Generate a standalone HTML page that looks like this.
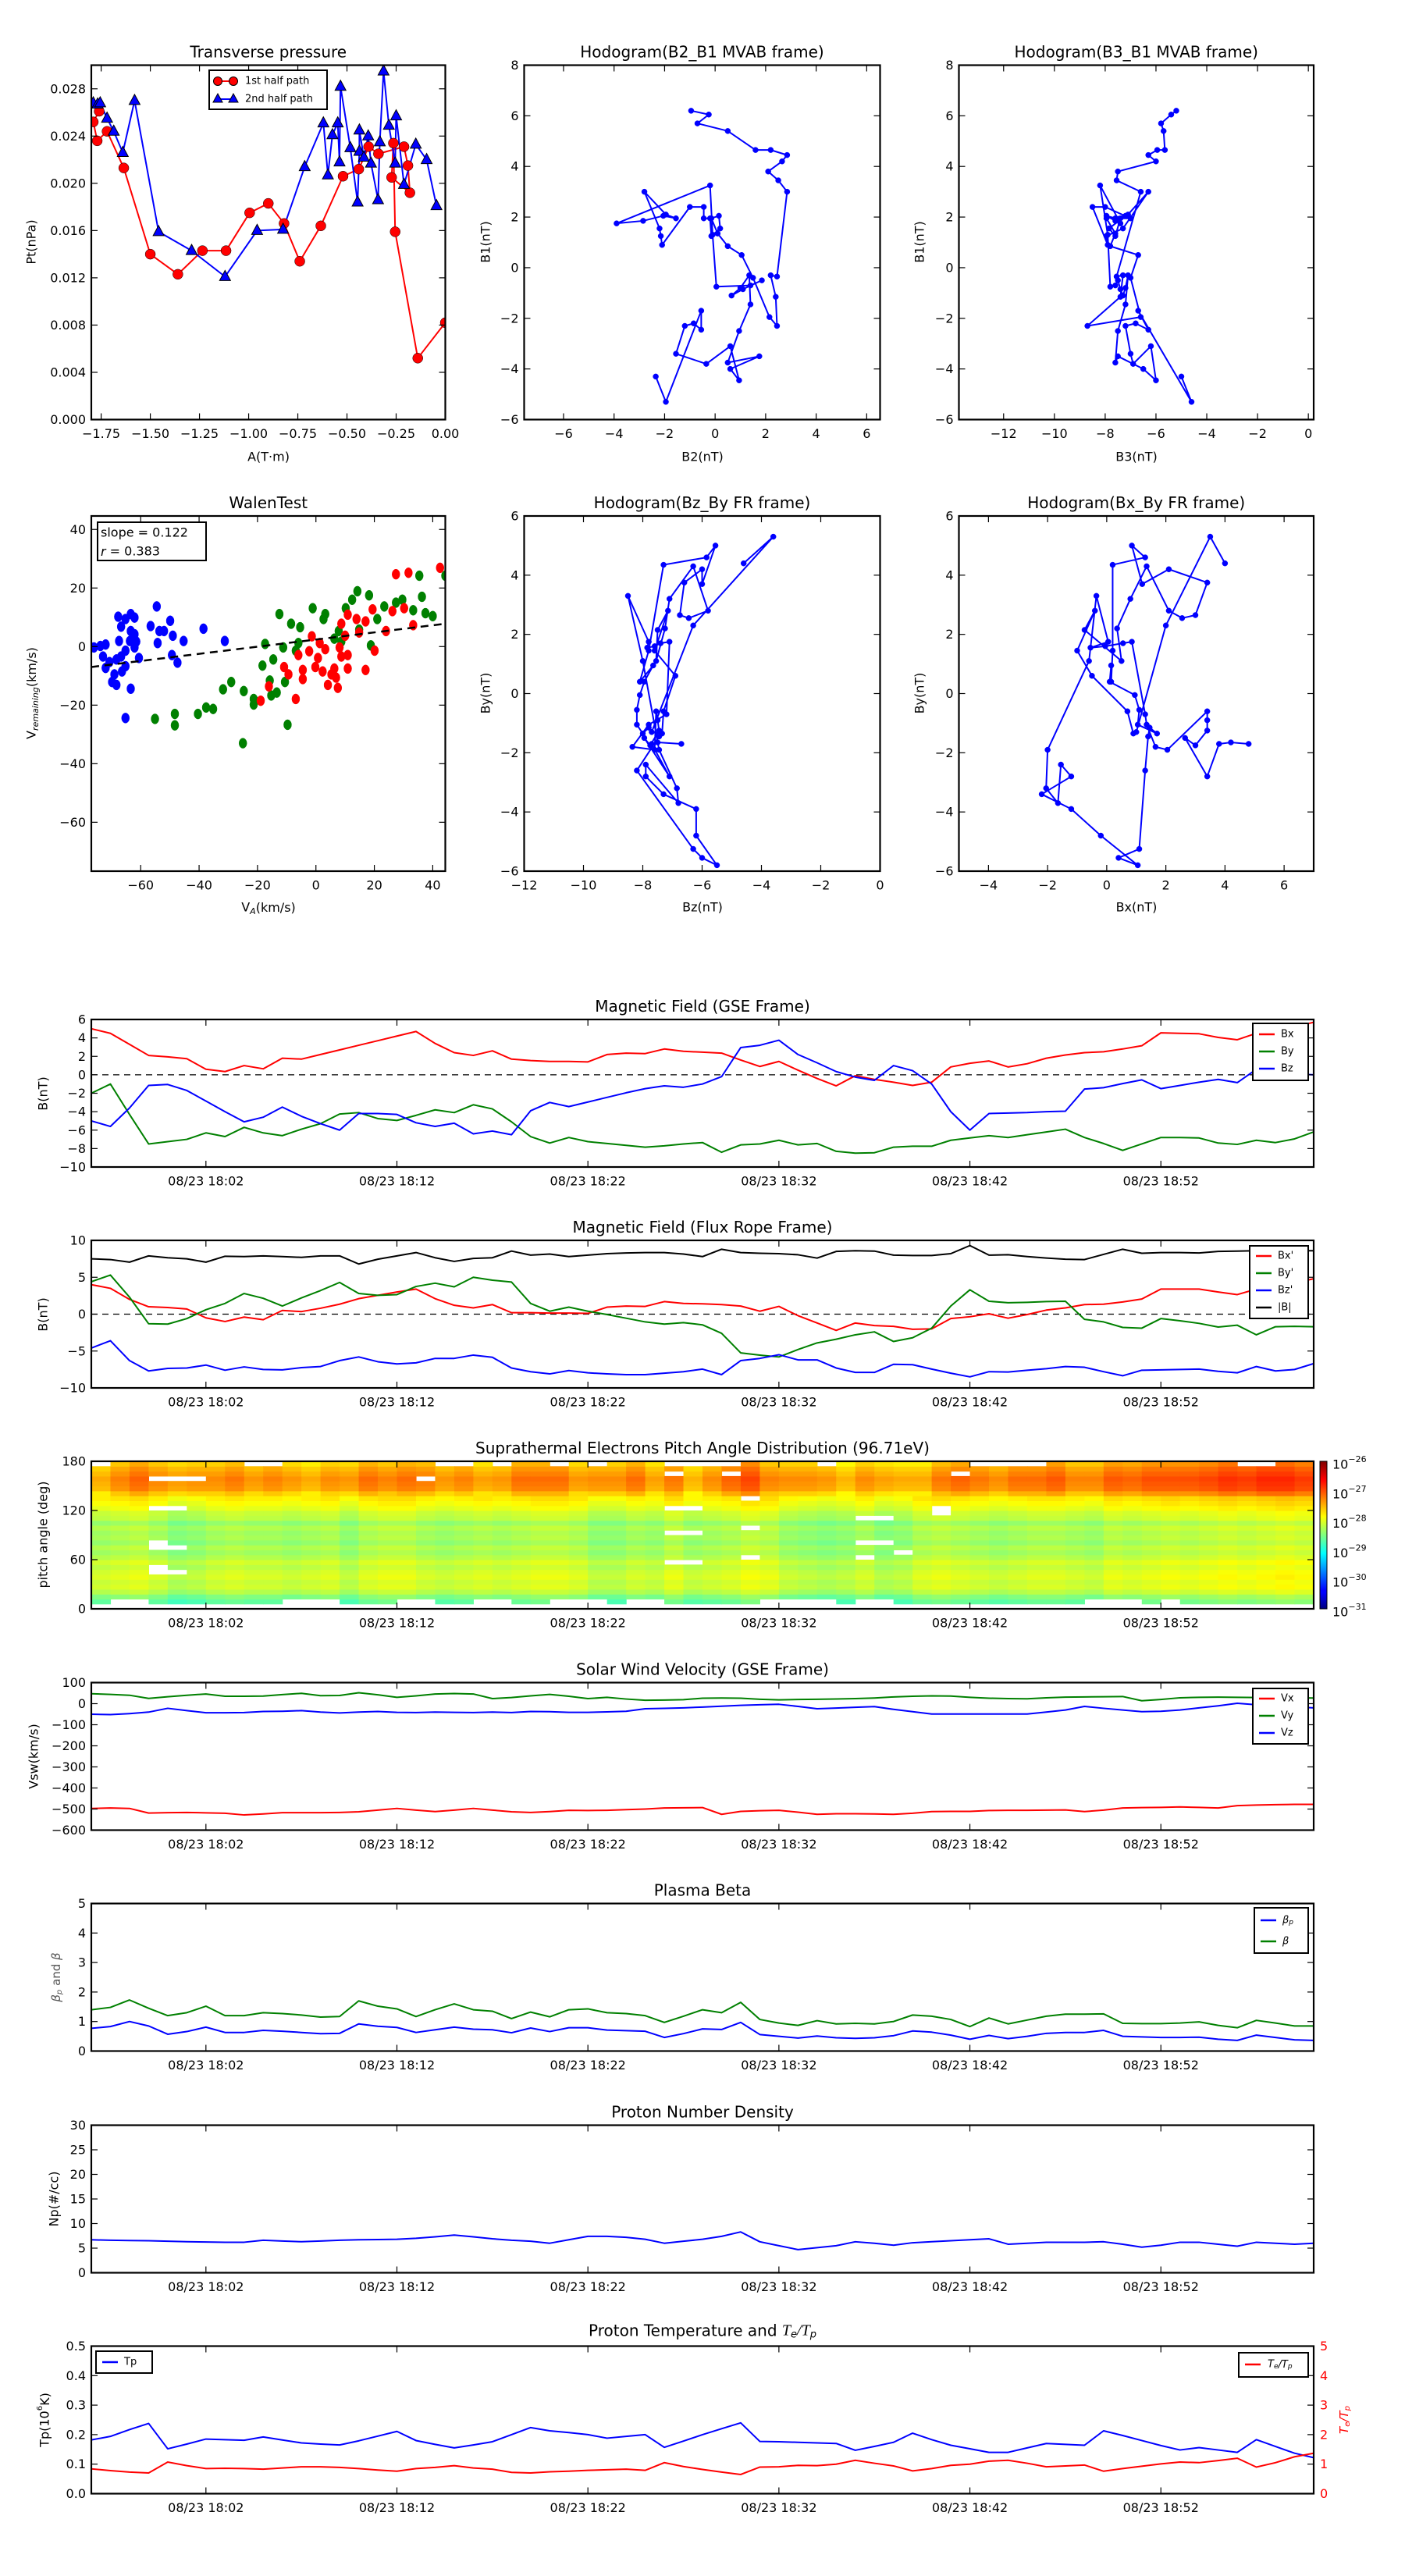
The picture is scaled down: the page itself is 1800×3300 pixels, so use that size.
<!DOCTYPE html>
<html><head><meta charset="utf-8"><title>Flux rope analysis</title>
<style>html,body{margin:0;padding:0;background:#fff}svg{display:block}text{font-family:"DejaVu Sans","Liberation Sans",sans-serif}</style>
</head><body>
<svg id="fig" xmlns="http://www.w3.org/2000/svg" width="1800" height="3300" viewBox="0 0 1800 3300"><rect width="1800" height="3300" fill="#fff"/><defs id="defs"><linearGradient id="jetgrad" x1="0" y1="1" x2="0" y2="0"><stop offset="0" stop-color="#00007f"/><stop offset="0.11" stop-color="#0000ff"/><stop offset="0.125" stop-color="#0000ff"/><stop offset="0.375" stop-color="#00ffff"/><stop offset="0.625" stop-color="#ffff00"/><stop offset="0.875" stop-color="#ff0000"/><stop offset="1" stop-color="#7f0000"/></linearGradient></defs></svg>
<script>
// ---------- time-series data (1-min cadence starting 17:56) ----------
const timeTickMinutes=[6,16,26,36,46,56];
const timeTickLabels=["08/23 18:02","08/23 18:12","08/23 18:22","08/23 18:32","08/23 18:42","08/23 18:52"];
const gseBx=[5.0,4.5,3.3,2.1,1.95,1.75,0.6,0.35,1.0,0.65,1.8,1.7,2.2,2.7,3.2,3.7,4.2,4.7,3.4,2.4,2.1,2.6,1.7,1.55,1.45,1.45,1.4,2.2,2.35,2.3,2.8,2.55,2.45,2.35,1.6,0.9,1.45,0.5,-0.4,-1.2,-0.1,-0.5,-0.8,-1.15,-0.8,0.85,1.25,1.5,0.85,1.2,1.8,2.15,2.4,2.5,2.8,3.15,4.55,4.5,4.45,4.05,3.8,4.5,4.8,5.2,5.7];
const gseBy=[-2.0,-1.0,-4.3,-7.5,-7.25,-7.0,-6.3,-6.7,-5.7,-6.3,-6.6,-5.9,-5.3,-4.25,-4.1,-4.75,-4.95,-4.4,-3.8,-4.1,-3.25,-3.7,-5.1,-6.7,-7.4,-6.8,-7.25,-7.45,-7.65,-7.85,-7.7,-7.5,-7.35,-8.4,-7.6,-7.5,-7.1,-7.6,-7.45,-8.3,-8.5,-8.45,-7.85,-7.75,-7.75,-7.1,-6.85,-6.6,-6.8,-6.5,-6.2,-5.9,-6.8,-7.45,-8.2,-7.5,-6.8,-6.8,-6.85,-7.4,-7.55,-7.1,-7.35,-6.95,-6.2];
const gseBz=[-5.0,-5.6,-3.6,-1.15,-1.05,-1.7,-2.85,-4.0,-5.1,-4.6,-3.5,-4.5,-5.3,-6.0,-4.2,-4.2,-4.3,-5.2,-5.6,-5.25,-6.4,-6.1,-6.5,-3.9,-3.0,-3.45,-2.95,-2.45,-1.95,-1.5,-1.2,-1.35,-1.0,-0.2,2.95,3.2,3.75,2.2,1.3,0.35,-0.25,-0.6,1.0,0.45,-1.0,-4.0,-6.0,-4.2,-4.15,-4.1,-4.0,-3.95,-1.55,-1.4,-0.95,-0.55,-1.5,-1.15,-0.8,-0.5,-0.85,0.6,0.4,0.1,0.0];
const frBx=[4.0,3.5,2.0,1.0,0.9,0.7,-0.5,-1.0,-0.4,-0.75,0.5,0.35,0.8,1.35,2.1,2.55,3.0,3.4,2.1,1.2,0.85,1.3,0.2,0.2,0.15,0.15,0.1,0.95,1.1,1.05,1.7,1.45,1.4,1.3,1.1,0.4,1.05,-0.2,-1.2,-2.2,-1.2,-1.55,-1.65,-2.05,-2.0,-0.6,-0.35,0.05,-0.55,-0.05,0.55,0.85,1.3,1.35,1.65,2.05,3.4,3.4,3.4,3.0,2.65,3.4,3.8,4.2,4.8];
const frBy=[4.4,5.3,2.3,-1.3,-1.35,-0.6,0.6,1.45,2.8,2.15,1.1,2.2,3.2,4.3,2.8,2.55,2.65,3.75,4.2,3.7,5.0,4.6,4.35,1.45,0.4,0.95,0.4,-0.05,-0.55,-1.05,-1.35,-1.15,-1.45,-2.6,-5.25,-5.55,-5.8,-4.8,-3.9,-3.4,-2.8,-2.4,-3.7,-3.2,-1.9,1.1,3.3,1.75,1.55,1.6,1.7,1.75,-0.7,-1.05,-1.8,-1.9,-0.6,-0.9,-1.25,-1.75,-1.5,-2.8,-1.7,-1.65,-1.7];
const frBz=[-4.6,-3.6,-6.3,-7.7,-7.35,-7.3,-6.9,-7.6,-7.15,-7.5,-7.55,-7.25,-7.1,-6.3,-5.8,-6.45,-6.75,-6.6,-6.0,-6.0,-5.55,-5.85,-7.3,-7.8,-8.1,-7.65,-7.95,-8.1,-8.2,-8.2,-8.0,-7.8,-7.45,-8.2,-6.3,-6.0,-5.5,-6.2,-6.2,-7.3,-7.9,-7.9,-6.8,-6.85,-7.45,-8.0,-8.5,-7.8,-7.85,-7.6,-7.4,-7.1,-7.2,-7.8,-8.35,-7.6,-7.55,-7.5,-7.45,-7.75,-7.95,-7.1,-7.7,-7.5,-6.7];
const frBt=[7.5,7.4,7.05,7.9,7.65,7.5,7.05,7.85,7.8,7.9,7.8,7.7,7.9,7.9,6.8,7.45,7.9,8.35,7.65,7.15,7.55,7.65,8.55,8.0,8.15,7.8,8.0,8.2,8.3,8.35,8.35,8.15,7.8,8.8,8.35,8.25,8.2,8.05,7.6,8.5,8.6,8.55,8.0,7.95,7.95,8.2,9.3,8.0,8.05,7.8,7.6,7.45,7.4,8.1,8.8,8.25,8.35,8.35,8.3,8.5,8.55,8.6,8.6,8.6,8.6];
const vswVx=[-497,-495,-497,-519,-517,-516,-518,-520,-528,-523,-517,-517,-517,-516,-513,-505,-497,-505,-512,-505,-497,-505,-513,-516,-512,-506,-507,-506,-503,-500,-495,-494,-493,-525,-511,-508,-506,-515,-525,-522,-522,-523,-525,-520,-512,-511,-511,-507,-506,-506,-505,-504,-512,-505,-495,-493,-492,-490,-492,-495,-484,-481,-479,-478,-478];
const vswVy=[47,44,40,25,33,40,46,35,35,36,43,49,38,39,52,42,30,37,46,48,46,24,29,37,44,35,24,30,22,16,17,19,26,27,26,21,18,20,21,22,24,27,32,35,37,36,30,26,24,23,28,31,32,33,34,14,20,28,30,31,30,29,28,28,27];
const vswVz=[-50,-52,-47,-40,-22,-33,-43,-43,-42,-37,-36,-33,-40,-44,-40,-37,-41,-42,-40,-41,-42,-40,-42,-37,-38,-41,-41,-39,-36,-24,-22,-20,-16,-12,-8,-5,-3,-13,-24,-21,-17,-14,-27,-38,-49,-49,-49,-49,-49,-49,-40,-30,-13,-22,-30,-38,-36,-30,-20,-10,2,-5,-10,-15,-20];
const betaTotal=[1.4,1.48,1.73,1.45,1.2,1.3,1.52,1.2,1.2,1.3,1.27,1.22,1.15,1.17,1.7,1.52,1.43,1.17,1.4,1.6,1.4,1.35,1.1,1.32,1.16,1.4,1.43,1.3,1.27,1.2,0.97,1.18,1.4,1.3,1.65,1.07,0.95,0.87,1.03,0.92,0.94,0.92,1.0,1.22,1.18,1.07,0.83,1.12,0.92,1.05,1.18,1.25,1.25,1.26,0.94,0.93,0.93,0.95,0.99,0.87,0.79,1.04,0.95,0.85,0.85];
const betaProton=[0.77,0.83,1.0,0.85,0.57,0.66,0.81,0.63,0.63,0.7,0.67,0.63,0.59,0.6,0.92,0.84,0.8,0.63,0.72,0.81,0.74,0.72,0.62,0.78,0.66,0.79,0.79,0.71,0.69,0.67,0.46,0.59,0.75,0.73,0.97,0.56,0.5,0.44,0.51,0.45,0.43,0.45,0.52,0.68,0.64,0.54,0.4,0.53,0.42,0.5,0.6,0.63,0.63,0.7,0.5,0.48,0.46,0.46,0.47,0.4,0.36,0.54,0.46,0.38,0.36];
const density=[6.7,6.6,6.55,6.5,6.4,6.3,6.25,6.2,6.2,6.6,6.45,6.3,6.45,6.6,6.7,6.75,6.8,7.0,7.3,7.65,7.3,6.9,6.6,6.4,6.0,6.7,7.4,7.4,7.2,6.8,6.0,6.4,6.8,7.4,8.3,6.3,5.5,4.7,5.1,5.5,6.3,6.0,5.6,6.1,6.3,6.5,6.7,6.9,5.8,6.0,6.2,6.2,6.2,6.3,5.8,5.2,5.6,6.2,6.2,5.8,5.4,6.2,6.0,5.8,6.0];
const protonTemp=[0.182,0.194,0.217,0.238,0.152,0.168,0.185,0.183,0.181,0.192,0.182,0.172,0.168,0.165,0.179,0.195,0.211,0.18,0.167,0.155,0.165,0.176,0.2,0.224,0.213,0.207,0.2,0.188,0.194,0.2,0.157,0.178,0.2,0.22,0.24,0.177,0.176,0.174,0.172,0.17,0.147,0.16,0.174,0.205,0.183,0.164,0.152,0.14,0.14,0.155,0.17,0.167,0.164,0.213,0.197,0.18,0.163,0.148,0.156,0.148,0.14,0.183,0.16,0.137,0.122];
const tempRatio=[0.84,0.78,0.73,0.7,1.07,0.95,0.85,0.86,0.85,0.83,0.87,0.91,0.91,0.89,0.85,0.8,0.76,0.85,0.89,0.95,0.87,0.83,0.72,0.7,0.74,0.76,0.79,0.81,0.83,0.79,1.05,0.92,0.82,0.73,0.65,0.9,0.91,0.96,0.95,1.0,1.13,1.03,0.94,0.77,0.85,0.96,1.0,1.1,1.13,1.03,0.91,0.94,0.97,0.76,0.85,0.93,1.01,1.07,1.05,1.12,1.2,0.9,1.05,1.25,1.37];
// PAD: normalised log-flux level per pitch-angle bin (6 deg) and per-minute offsets
const padRowLevel=[null,0.47,0.5,0.55,0.58,0.57,0.59,0.58,0.56,0.58,0.55,0.53,0.55,0.52,0.54,0.53,0.55,0.52,0.56,0.57,0.6,0.62,0.64,0.66,0.71,0.72,0.73,0.71,0.69,0.66];
const padColOffset=[0,0.01,0.02,0,-0.03,-0.02,0,0.01,0,0,-0.01,0,0.01,-0.02,0.01,0.02,0.02,0,-0.01,0,0.01,0,0.01,0.02,0.02,0.01,-0.02,-0.02,0,-0.01,0.02,-0.01,0,0.01,0.03,0.02,-0.01,-0.02,-0.03,-0.02,0,-0.03,-0.02,0.01,0.02,0.01,0,-0.01,0,0.01,0.01,0,-0.01,0.02,0.01,0.02,0.03,0.02,0.03,0.04,0.03,0.04,0.05,0.04];
const padTopOffset=[-0.02,0.01,0.03,0.02,0.03,0.03,0.01,0.02,0,0.02,0.01,-0.02,0,0.02,0.03,0,0.02,0.03,0.01,0.02,-0.02,0,0.03,0.02,0.02,-0.01,0.03,0.03,0.04,0,0.01,-0.02,0.01,0.04,0.05,0,0.02,0.03,0.03,-0.01,0.01,0.02,0,-0.03,0.01,0.04,0.03,0.02,0.04,0.03,0.05,0.02,0.03,0.04,0.04,0.05,0.04,0.05,0.05,0.06,0.06,0.07,0.06,0.05];
const padBlankCol=[3,4,3,3,4,3,3,4,30,31,30,31,30,31,34,34,34,40,41,40,41,42,40,44,44,3,4,5,17,30,33,45,46,47,48,49,1,2,10,11,12,16,17,20,21,24,25,26,28,29,35,36,37,38,40,41,52,53,54,56,0,8,9,18,19,21,24,26,30,31,32,33,38,47,48,49,60,61];
const padBlankRow=[20,20,13,12,12,8,7,7,20,20,15,15,9,9,22,16,10,18,18,13,13,11,10,20,19,26,26,26,26,27,27,27,29,29,29,29,1,1,1,1,1,1,1,1,1,1,1,1,1,1,1,1,1,1,1,1,1,1,1,1,29,29,29,29,29,29,29,29,29,29,29,29,29,29,29,29,29,29];
const colorbarLabels=["-26","-27","-28","-29","-30","-31"];
// ---------- transverse pressure ----------
const pt1A=[-1.76,-1.79,-1.77,-1.72,-1.635,-1.5,-1.36,-1.235,-1.115,-0.995,-0.9,-0.82,-0.74,-0.633,-0.52,-0.44,-0.39,-0.34,-0.21,-0.19,-0.18,-0.273,-0.264,-0.255,-0.14,0.0];
const pt1P=[0.0261,0.0252,0.0236,0.0244,0.0213,0.014,0.0123,0.0143,0.0143,0.0175,0.0183,0.0166,0.0134,0.0164,0.0206,0.0212,0.0231,0.0225,0.0231,0.0215,0.0192,0.0205,0.0234,0.0159,0.0052,0.0082];
const pt2A=[-1.79,-1.768,-1.755,-1.72,-1.686,-1.64,-1.58,-1.458,-1.29,-1.12,-0.957,-0.825,-0.715,-0.62,-0.597,-0.574,-0.547,-0.538,-0.533,-0.483,-0.446,-0.437,-0.437,-0.414,-0.392,-0.378,-0.342,-0.333,-0.314,-0.287,-0.255,-0.25,-0.21,-0.15,-0.095,-0.045];
const pt2P=[0.0268,0.0267,0.0268,0.0255,0.0244,0.0226,0.027,0.0159,0.0143,0.0121,0.016,0.0161,0.0214,0.0251,0.0207,0.0241,0.0251,0.0218,0.0282,0.023,0.0184,0.0227,0.0245,0.0222,0.024,0.0217,0.0186,0.0235,0.0295,0.0249,0.0217,0.0257,0.0199,0.0233,0.022,0.0181];
// ---------- MVAB hodograms ----------
const mvB1=[6.2,6.05,5.7,5.4,4.65,4.65,4.45,4.2,3.8,3.45,3.0,-0.35,-0.3,-1.15,-2.3,-1.95,-0.4,0.5,0.85,1.35,1.95,2.05,1.55,1.25,1.95,1.95,2.4,2.4,0.9,1.25,1.55,3.0,2.1,1.95,2.05,1.85,1.75,3.25,1.3,-0.75,-0.7,-0.5,-0.85,-1.1,-0.8,-0.3,-1.45,-2.5,-3.75,-3.5,-4.0,-4.45,-3.1,-3.8,-3.4,-2.3,-2.2,-2.45,-1.7,-5.3,-4.3];
const mvB2=[-0.95,-0.25,-0.7,0.5,1.6,2.2,2.85,2.65,2.1,2.5,2.85,2.45,2.2,2.4,2.45,2.15,1.5,1.05,0.5,0.1,-0.15,0.15,0.2,-0.15,-0.2,-0.45,-0.45,-1.0,-2.1,-2.15,-2.2,-2.8,-1.95,-1.55,-2.05,-2.85,-3.9,-0.2,-0.1,0.05,1.4,1.85,1.1,0.65,1.0,1.35,1.4,0.95,0.5,1.75,0.6,0.95,0.6,-0.35,-1.55,-1.2,-0.85,-0.55,-0.55,-1.95,-2.35];
const mvB3=[-5.2,-5.4,-5.8,-5.7,-5.65,-5.95,-6.3,-6.0,-7.5,-7.55,-6.6,-7.55,-7.3,-7.4,-8.7,-6.6,-7.0,-6.7,-7.8,-7.6,-7.95,-7.2,-7.85,-7.6,-7.4,-7.0,-8.0,-8.5,-7.9,-7.95,-7.3,-6.3,-7.1,-7.6,-7.95,-7.6,-7.4,-8.2,-7.9,-7.8,-7.6,-7.5,-7.4,-7.3,-7.2,-7.1,-7.2,-7.5,-7.6,-7.5,-6.5,-6.0,-6.2,-6.9,-7.0,-7.2,-6.8,-6.3,-6.7,-4.6,-5.0];
// ---------- Walen test ----------
const walenBlueVA=[-76,-73.8,-72,-72.9,-72,-69.8,-68.3,-69,-68.3,-67.4,-66.7,-67.7,-65.2,-63.4,-62.1,-63.4,-62.1,-63.7,-62.1,-65.2,-66.7,-65.2,-66.4,-63.4,-65.2,-61.5,-60.6,-56.6,-54.5,-53.6,-52,-54.2,-49.9,-49,-49.3,-47.4,-45.3,-38.5,-31.2,-70.7];
const walenBlueVR=[-0.3,0.2,0.7,-3.4,-7.3,-12.1,-13.1,-9.5,-4.4,1.9,6.8,10.2,9.4,11.1,9.9,5.3,4.2,1.9,-0.3,-1.4,-3.4,-6.7,-8.5,-14.4,-24.4,1.7,-3.9,7,13.7,5.3,5.3,1.2,8.8,3.7,-2.9,-5.5,1.9,6.1,1.9,-5.3];
const walenGreenVA=[-55.1,-48.3,-48.3,-40.4,-37.6,-35.2,-31.8,-29,-24.7,-25,-21.3,-21.3,-18.3,-17.4,-15.8,-15.3,-14.6,-13.4,-12.5,-11.2,-10.6,-9.7,-8.5,-6.9,-6,-5.4,-1.1,2.6,3.2,6.3,7.8,8.7,10.2,12.4,14.2,14.8,18.2,18.8,21,23.4,27.4,29.6,33.3,35.4,36.3,37.5,40,44.3];
const walenGreenVR=[-24.7,-23,-26.9,-23,-20.8,-21.3,-14.6,-12.1,-15.2,-33,-17.9,-19.8,-6.5,0.9,-11.6,-16.7,-4.4,-15.7,11.1,-0.3,-12.1,-26.7,7.8,-1.4,1.2,6.6,13.1,9.4,11.1,2.7,5.3,1.7,13.1,16,18.9,5.8,17.5,0.4,9.4,13.7,15,16,12.4,24.2,17,11.4,10.4,24.2];
const walenRedVA=[-18.9,-16.1,-10.9,-9.4,-6.9,-6,-4.5,-4.5,-2.3,-1.4,-0.2,0.7,1.3,2.3,3.2,4.1,5.3,6.3,6.9,7.5,8.1,8.7,8.7,10,10.9,10.9,10.9,13.9,14.8,17,17,19.4,20.1,24,26.2,27.4,30.2,31.7,33.3,42.5];
const walenRedVR=[-18.5,-13.6,-7,-9.5,-17.9,-2.9,-8,-11.1,-1.6,3.5,-7,-3.9,1.2,-8.5,-0.9,-13.1,-9.5,-7.5,-10.6,-14.1,-0.3,-3.4,7.8,3.7,10.9,-2.9,-7.5,9.4,4.8,8.6,-8,12.7,-1.4,5.3,12.1,24.7,13.1,25.2,7.3,26.9];
const walenSlope=0.122, walenIntercept=2.4;

// ---------- drawing helpers ----------
const NS="http://www.w3.org/2000/svg";
const svg=document.getElementById("fig");
const defs=document.getElementById("defs");
function mk(tag,attrs,parent){const e=document.createElementNS(NS,tag);for(const k in attrs)e.setAttribute(k,attrs[k]);(parent||svg).appendChild(e);return e;}
function lin(d0,d1,r0,r1){return v=>r0+(v-d0)*(r1-r0)/(d1-d0);}
let clipN=0;
function txt(parent,x,y,s,size,anchor,extra){const t=mk("text",Object.assign({x:x,y:y,"font-size":size,"text-anchor":anchor||"middle","dominant-baseline":"central",fill:"#000"},extra||{}),parent);t.textContent=s;return t;}
function axes(name,box,xd,yd,xt,xl,yt,yl){
  const g=mk("g",{});
  
  
  const sx=lin(xd[0],xd[1],box.x,box.x+box.w), sy=lin(yd[0],yd[1],box.y+box.h,box.y);
  clipN++;
  const cp=mk("clipPath",{id:"clip"+clipN},defs);
  mk("rect",{x:box.x,y:box.y,width:box.w,height:box.h},cp);
  const data=mk("g",{"clip-path":"url(#clip"+clipN+")"},g);
  
  
  const fr=mk("g",{},g);
  const b=box.y+box.h;
  xt.forEach((v,i)=>{const X=sx(v);
    mk("line",{x1:X,x2:X,y1:b,y2:b-8,stroke:"#000","stroke-width":1.2},fr);
    mk("line",{x1:X,x2:X,y1:box.y,y2:box.y+8,stroke:"#000","stroke-width":1.2},fr);
    const t=txt(fr,X,b+18,xl[i],16);
    
    });
  yt.forEach((v,i)=>{const Y=sy(v);
    mk("line",{x1:box.x,x2:box.x+8,y1:Y,y2:Y,stroke:"#000","stroke-width":1.2},fr);
    mk("line",{x1:box.x+box.w,x2:box.x+box.w-8,y1:Y,y2:Y,stroke:"#000","stroke-width":1.2},fr);
    const t=txt(fr,box.x-7,Y,yl[i],16,"end");
    
    });
  const r=mk("rect",{x:box.x,y:box.y,width:box.w,height:box.h,fill:"none",stroke:"#000","stroke-width":2.2},fr);
  
  
  return {sx,sy,g,data,fr,box};
}
function rng(a,b,s){const o=[];for(let v=a;v<=b+1e-9;v+=s)o.push(Math.round(v*1000)/1000);return o;}
function polyline(ax,xs,ys,color,w,name){
  const pts=xs.map((x,i)=>ax.sx(x).toFixed(2)+","+ax.sy(ys[i]).toFixed(2)).join(" ");
  const p=mk("polyline",{points:pts,fill:"none",stroke:color,"stroke-width":w||2,"stroke-linejoin":"round"},ax.data);
  
  
  return p;
}
function dots(ax,xs,ys,color,r,name,ry){
  xs.forEach((x,i)=>{const c=mk("ellipse",{cx:ax.sx(x),cy:ax.sy(ys[i]),rx:r,ry:ry||r,fill:color,stroke:color,"stroke-width":0.5},ax.data);
    
    });
}
function title(ax,s,dy){const t=txt(svg,ax.box.x+ax.box.w/2,ax.box.y-(dy||17),s,20);
  
  return t;}
function ylabel(x,y,s,size,color){const t=txt(svg,x,y,s,size||16,"middle",{transform:"rotate(-90 "+x+" "+y+")",fill:color||"#000"});
  
  return t;}
function xlabel(x,y,s){const t=txt(svg,x,y,s,16);
  
  return t;}
function legend(box,entries,name){
  const g=mk("g",{});
  
  
  mk("rect",{x:box.x,y:box.y,width:box.w,height:box.h,fill:"#fff",stroke:"#000","stroke-width":2},g);
  entries.forEach(e=>{
    const ln=mk("line",{x1:box.x+8,x2:box.x+28,y1:e.y,y2:e.y,stroke:e.color,"stroke-width":2.5},g);
    
    
    const t=txt(g,box.x+36,e.y,e.label,13,"start");
    
    
  });
  return g;
}
function zeroLine(ax){const l=mk("line",{x1:ax.box.x,x2:ax.box.x+ax.box.w,y1:ax.sy(0),y2:ax.sy(0),stroke:"#000","stroke-width":1.3,"stroke-dasharray":"8,6"},ax.data);
  
  }
function jet(t){const c=v=>Math.round(255*Math.max(0,Math.min(1,v)));return "rgb("+c(1.5-Math.abs(4*t-3))+","+c(1.5-Math.abs(4*t-2))+","+c(1.5-Math.abs(4*t-1))+")";}

// ---------- Row 1 ----------
const axPt=axes("transverse-pressure-chart",{x:117,y:83.5,w:453.5,h:454},[-1.8,0],[0,0.03],rng(-1.75,0,0.25),rng(-1.75,0,0.25).map(v=>v.toFixed(2).replace("-","\u2212")),rng(0,0.028,0.004),rng(0,0.028,0.004).map(v=>v.toFixed(3)));
title(axPt,"Transverse pressure");
ylabel(40,310,"Pt(nPa)");
xlabel(344,585,"A(T\u00b7m)");
polyline(axPt,pt1A,pt1P,"#ff0000",2,"first-half-path-line");
polyline(axPt,pt2A,pt2P,"#0000ff",2,"second-half-path-line");
dots(axPt,pt1A,pt1P,"#ff0000",6.5,"first-half-marker");
axPt.data.querySelectorAll("ellipse").forEach(c=>c.setAttribute("stroke","#000"));
pt2A.forEach((a,i)=>{const X=axPt.sx(a),Y=axPt.sy(pt2P[i]);
  const p=mk("polygon",{points:(X)+","+(Y-8)+" "+(X-7)+","+(Y+5)+" "+(X+7)+","+(Y+5),fill:"#0000ff",stroke:"#000","stroke-width":1},axPt.data);
  
  });
(function(){const g=mk("g",{});
  
  
  mk("rect",{x:268,y:90,width:151,height:50,fill:"#fff",stroke:"#000","stroke-width":2},g);
  mk("line",{x1:276,x2:302,y1:104,y2:104,stroke:"#ff0000","stroke-width":2},g);
  mk("circle",{cx:279,cy:104,r:5.5,fill:"#ff0000",stroke:"#000"},g);mk("circle",{cx:299,cy:104,r:5.5,fill:"#ff0000",stroke:"#000"},g);
  mk("line",{x1:276,x2:302,y1:127,y2:127,stroke:"#0000ff","stroke-width":2},g);
  mk("polygon",{points:"279,120 273,131 285,131",fill:"#0000ff",stroke:"#000"},g);mk("polygon",{points:"299,120 293,131 305,131",fill:"#0000ff",stroke:"#000"},g);
  txt(g,314,104,"1st half path",13,"start");txt(g,314,127,"2nd half path",13,"start");})();

const axB21=axes("hodogram-b2-b1-chart",{x:671.5,y:83.5,w:456,h:454},[-7.56,6.53],[-6,8],rng(-6,6,2),rng(-6,6,2).map(v=>String(v).replace("-","\u2212")),rng(-6,8,2),rng(-6,8,2).map(v=>String(v).replace("-","\u2212")));
title(axB21,"Hodogram(B2_B1 MVAB frame)");
ylabel(622,310,"B1(nT)");xlabel(900,585,"B2(nT)");
polyline(axB21,mvB2,mvB1,"#0000ff",2,"b2-b1-path");
dots(axB21,mvB2,mvB1,"#0000ff",3.5,"b2-b1-point");

const axB31=axes("hodogram-b3-b1-chart",{x:1228.5,y:83.5,w:454.5,h:454},[-13.76,0.21],[-6,8],rng(-12,0,2),rng(-12,0,2).map(v=>String(v).replace("-","\u2212")),rng(-6,8,2),rng(-6,8,2).map(v=>String(v).replace("-","\u2212")));
title(axB31,"Hodogram(B3_B1 MVAB frame)");
ylabel(1178,310,"B1(nT)");xlabel(1456,585,"B3(nT)");
polyline(axB31,mvB3,mvB1,"#0000ff",2,"b3-b1-path");
dots(axB31,mvB3,mvB1,"#0000ff",3.5,"b3-b1-point");

// ---------- Row 2 ----------
const axW=axes("walen-test-chart",{x:117,y:661,w:453.5,h:455},[-76.9,44.3],[-76.7,44.6],rng(-60,40,20),rng(-60,40,20).map(v=>String(v).replace("-","\u2212")),rng(-60,40,20),rng(-60,40,20).map(v=>String(v).replace("-","\u2212")));
title(axW,"WalenTest");
(function(){const x=40,y=888;const t=mk("text",{x:x,y:y,"font-size":16,"text-anchor":"middle","dominant-baseline":"central",transform:"rotate(-90 "+x+" "+y+")"});
  
  
  t.innerHTML='V<tspan font-size="11" font-style="italic" dy="5">remaining</tspan><tspan dy="-5">(km/s)</tspan>';
  const t2=mk("text",{x:344,y:1162,"font-size":16,"text-anchor":"middle","dominant-baseline":"central"});
  
  
  t2.innerHTML='V<tspan font-size="11" font-style="italic" dy="5">A</tspan><tspan dy="-5">(km/s)</tspan>';})();
dots(axW,walenBlueVA,walenBlueVR,"#0000ff",5,"walen-blue-point",6.5);
dots(axW,walenGreenVA,walenGreenVR,"#008000",5,"walen-green-point",6.5);
dots(axW,walenRedVA,walenRedVR,"#ff0000",5,"walen-red-point",6.5);
(function(){const xs=[-76.9,44.3];const l=mk("line",{x1:axW.sx(xs[0]),y1:axW.sy(walenSlope*xs[0]+walenIntercept),x2:axW.sx(xs[1]),y2:axW.sy(walenSlope*xs[1]+walenIntercept),stroke:"#000","stroke-width":2.5,"stroke-dasharray":"10,7"},axW.data);
  
  
  const g=mk("g",{});
  
  
  mk("rect",{x:125,y:669,width:139,height:49,fill:"#fff",stroke:"#000","stroke-width":2},g);
  txt(g,129,682,"slope = "+walenSlope.toFixed(3),16,"start");
  const t=mk("text",{x:129,y:706,"font-size":16,"dominant-baseline":"central"},g);t.innerHTML='<tspan font-style="italic">r</tspan> = 0.383';})();

const axHz=axes("hodogram-bz-by-chart",{x:671.5,y:661,w:456,h:455},[-12,0],[-6,6],rng(-12,0,2),rng(-12,0,2).map(v=>String(v).replace("-","\u2212")),rng(-6,6,2),rng(-6,6,2).map(v=>String(v).replace("-","\u2212")));
title(axHz,"Hodogram(Bz_By FR frame)");
ylabel(622,888,"By(nT)");xlabel(900,1162,"Bz(nT)");
polyline(axHz,frBz,frBy,"#0000ff",2,"bz-by-path");
dots(axHz,frBz,frBy,"#0000ff",3.5,"bz-by-point");

const axHx=axes("hodogram-bx-by-chart",{x:1228.5,y:661,w:454.5,h:455},[-5,7],[-6,6],rng(-4,6,2),rng(-4,6,2).map(v=>String(v).replace("-","\u2212")),rng(-6,6,2),rng(-6,6,2).map(v=>String(v).replace("-","\u2212")));
title(axHx,"Hodogram(Bx_By FR frame)");
ylabel(1178,888,"By(nT)");xlabel(1456,1162,"Bx(nT)");
polyline(axHx,frBx,frBy,"#0000ff",2,"bx-by-path");
dots(axHx,frBx,frBy,"#0000ff",3.5,"bx-by-point");

// ---------- Time series ----------
const minutes=gseBx.map((_,i)=>i);
const TS={x:117,w:1566,h:189};
function tsAxes(name,top,yd,yt,yl){return axes(name,{x:TS.x,y:top,w:TS.w,h:TS.h},[0,64],yd,timeTickMinutes,timeTickLabels,yt,yl);}
const neg=v=>String(v).replace("-","\u2212");

const axG=tsAxes("magnetic-field-gse-chart",1306,[-10,6],rng(-10,6,2),rng(-10,6,2).map(neg));
title(axG,"Magnetic Field (GSE Frame)");ylabel(55,1401,"B(nT)");
zeroLine(axG);
polyline(axG,minutes,gseBx,"#ff0000",2,"gse-bx-line");
polyline(axG,minutes,gseBy,"#008000",2,"gse-by-line");
polyline(axG,minutes,gseBz,"#0000ff",2,"gse-bz-line");
legend({x:1605,y:1311,w:71,h:73},[{label:"Bx",color:"#ff0000",y:1325},{label:"By",color:"#008000",y:1347},{label:"Bz",color:"#0000ff",y:1369}],"gse-legend");

const axF=tsAxes("magnetic-field-fr-chart",1589,[-10,10],rng(-10,10,5),rng(-10,10,5).map(neg));
title(axF,"Magnetic Field (Flux Rope Frame)");ylabel(55,1684,"B(nT)");
zeroLine(axF);
polyline(axF,minutes,frBx,"#ff0000",2,"fr-bx-line");
polyline(axF,minutes,frBy,"#008000",2,"fr-by-line");
polyline(axF,minutes,frBz,"#0000ff",2,"fr-bz-line");
polyline(axF,minutes,frBt,"#000000",2,"fr-btotal-line");
legend({x:1601,y:1596,w:75,h:93},[{label:"Bx'",color:"#ff0000",y:1609},{label:"By'",color:"#008000",y:1631},{label:"Bz'",color:"#0000ff",y:1653},{label:"|B|",color:"#000000",y:1675}],"fr-legend");

const axP=tsAxes("pitch-angle-chart",1872,[0,180],[0,60,120,180],["0","60","120","180"]);
title(axP,"Suprathermal Electrons Pitch Angle Distribution (96.71eV)");ylabel(55,1966,"pitch angle (deg)");
const blank=new Set(padBlankCol.map((c,k)=>c+"_"+padBlankRow[k]));
for(let i=0;i<64;i++){for(let j=0;j<padRowLevel.length;j++){
  const lv=padRowLevel[j];if(lv===null)continue;
  if(blank.has(i+"_"+j))continue;
  let t=lv+(padColOffset[i]||0);
  if(j>=23)t+=(padTopOffset[i]||0);
  const X0=axP.sx(i),X1=axP.sx(i+1),Y1=axP.sy(j*6),Y0=axP.sy(j*6+6);
  const r=mk("rect",{x:X0.toFixed(2),y:Y0.toFixed(2),width:(X1-X0+0.6).toFixed(2),height:(Y1-Y0+0.6).toFixed(2),fill:jet(t)},axP.data);
  
  }}
(function(){const g=mk("g",{});
  
  
  mk("rect",{x:1691,y:1872,width:9,height:189,fill:"url(#jetgrad)",stroke:"#000","stroke-width":1},g);
  colorbarLabels.forEach((s,k)=>{const y=1872+k*189/5;const t=mk("text",{x:1707,y:y+4,"font-size":16,"dominant-baseline":"central"},g);
    
    
    t.innerHTML='10<tspan font-size="11" dy="-7">'+s.replace("-","\u2212")+'</tspan>';});})();

const axV=tsAxes("solar-wind-velocity-chart",2155.5,[-600,100],rng(-600,100,100),rng(-600,100,100).map(neg));
title(axV,"Solar Wind Velocity (GSE Frame)");ylabel(43,2250,"Vsw(km/s)");
polyline(axV,minutes,vswVx,"#ff0000",2,"vsw-vx-line");
polyline(axV,minutes,vswVy,"#008000",2,"vsw-vy-line");
polyline(axV,minutes,vswVz,"#0000ff",2,"vsw-vz-line");
legend({x:1605,y:2163,w:71,h:71},[{label:"Vx",color:"#ff0000",y:2176},{label:"Vy",color:"#008000",y:2198},{label:"Vz",color:"#0000ff",y:2220}],"vsw-legend");

const axBeta=tsAxes("plasma-beta-chart",2438.5,[0,5],rng(0,5,1),rng(0,5,1).map(String));
title(axBeta,"Plasma Beta");
(function(){const x=72,y=2533;const t=mk("text",{x:x,y:y,"font-size":15,fill:"#555","text-anchor":"middle","dominant-baseline":"central",transform:"rotate(-90 "+x+" "+y+")"});
  
  
  t.innerHTML='<tspan font-style="italic">β</tspan><tspan font-size="10" font-style="italic" dy="4">p</tspan><tspan dy="-4"> and </tspan><tspan font-style="italic">β</tspan>';})();
polyline(axBeta,minutes,betaProton,"#0000ff",2,"beta-proton-line");
polyline(axBeta,minutes,betaTotal,"#008000",2,"beta-total-line");
(function(){const g=legend({x:1607,y:2444,w:69,h:58},[{label:"",color:"#0000ff",y:2460},{label:"",color:"#008000",y:2487}],"beta-legend");
  const a=mk("text",{x:1643,y:2460,"font-size":13,"font-style":"italic","dominant-baseline":"central"},g);a.innerHTML='β<tspan font-size="9" dy="3">p</tspan>';
  const b=mk("text",{x:1643,y:2487,"font-size":13,"font-style":"italic","dominant-baseline":"central"},g);b.textContent="β";})();

const axN=tsAxes("proton-density-chart",2722.5,[0,30],rng(0,30,5),rng(0,30,5).map(String));
title(axN,"Proton Number Density");ylabel(69,2817,"Np(#/cc)");
polyline(axN,minutes,density,"#0000ff",2,"density-line");

const axT=tsAxes("proton-temperature-chart",3005.5,[0,0.5],rng(0,0.5,0.1),rng(0,0.5,0.1).map(v=>v.toFixed(1)));
(function(){const t=mk("text",{x:900,y:3005.5-20,"font-size":20,"text-anchor":"middle","dominant-baseline":"central"});
  
  
  t.innerHTML='Proton Temperature and <tspan font-style="italic" font-family="Liberation Serif, serif">T</tspan><tspan font-size="13" font-style="italic" dy="5">e</tspan><tspan dy="-5" font-style="italic" font-family="Liberation Serif, serif">/T</tspan><tspan font-size="13" font-style="italic" dy="5">p</tspan>';
  const x=57,y=3100;const yl=mk("text",{x:x,y:y,"font-size":16,"text-anchor":"middle","dominant-baseline":"central",transform:"rotate(-90 "+x+" "+y+")"});
  
  
  yl.innerHTML='Tp(10<tspan font-size="10" dy="-6">6</tspan><tspan dy="6">K)</tspan>';})();
polyline(axT,minutes,protonTemp,"#0000ff",2,"proton-temp-line");
const syR=lin(0,5,3005.5+189,3005.5);
(function(){const pts=minutes.map((m,i)=>axT.sx(m).toFixed(2)+","+syR(tempRatio[i]).toFixed(2)).join(" ");
  const p=mk("polyline",{points:pts,fill:"none",stroke:"#ff0000","stroke-width":2},axT.data);
  
  
  [0,1,2,3,4,5].forEach(v=>{const t=txt(svg,1691,syR(v),String(v),16,"start",{fill:"#ff0000"});
    
    });
  const x=1722,y=3100;const r=mk("text",{x:x,y:y,"font-size":15,fill:"#ff0000","font-style":"italic","text-anchor":"middle","dominant-baseline":"central",transform:"rotate(-90 "+x+" "+y+")"});
  
  
  r.innerHTML='T<tspan font-size="10" dy="4">e</tspan><tspan dy="-4">/T</tspan><tspan font-size="10" dy="4">p</tspan>';})();
legend({x:123,y:3012,w:72,h:28},[{label:"Tp",color:"#0000ff",y:3026}],"tp-legend");
(function(){const g=legend({x:1587,y:3014,w:89,h:31},[{label:"",color:"#ff0000",y:3029}],"ratio-legend");
  const t=mk("text",{x:1624,y:3029,"font-size":13,"font-style":"italic","dominant-baseline":"central"},g);t.innerHTML='T<tspan font-size="9" dy="3">e</tspan><tspan dy="-3">/T</tspan><tspan font-size="9" dy="3">p</tspan>';})();
</script>
</body></html>
